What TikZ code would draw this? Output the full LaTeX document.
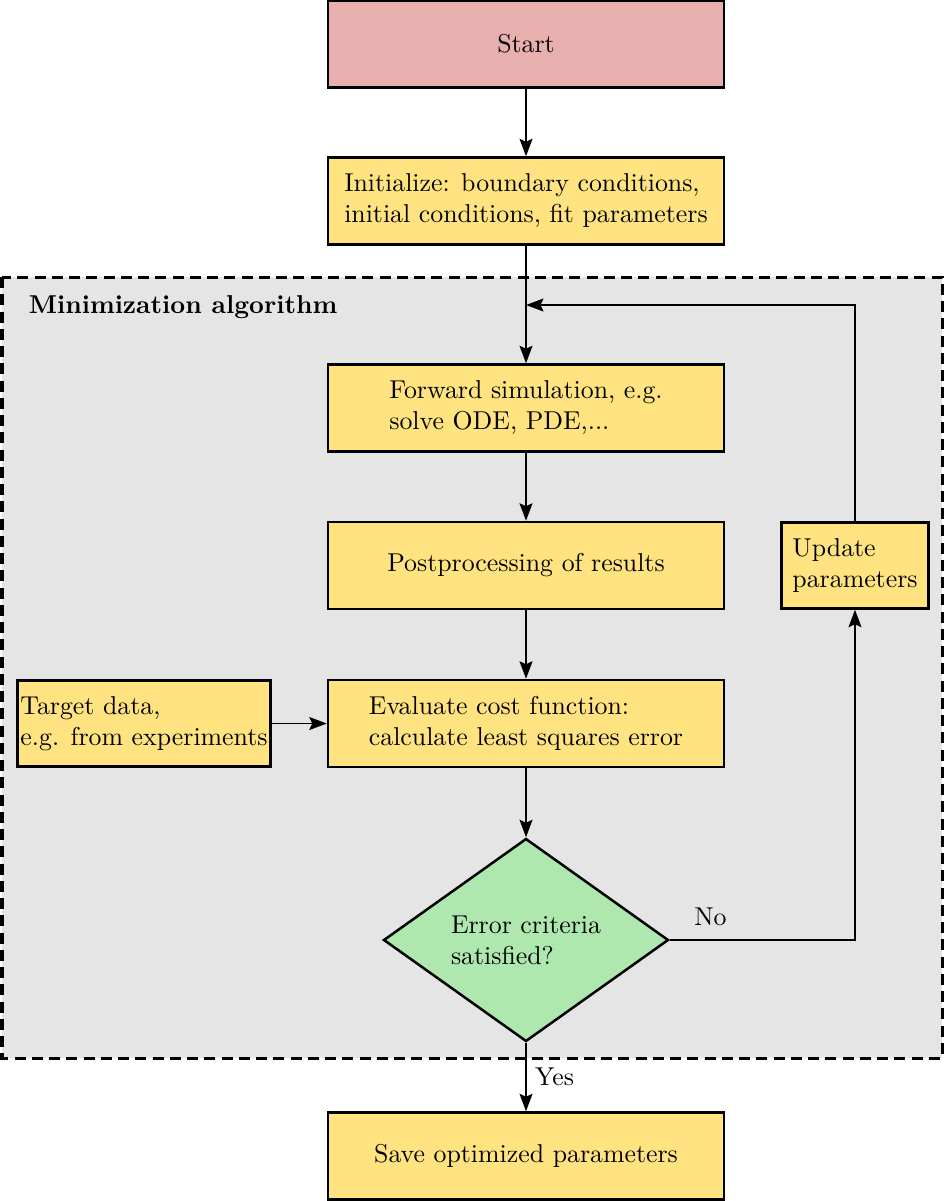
\documentclass[tikz,border=0pt]{standalone}
\usetikzlibrary{shapes.geometric,arrows.meta}

\definecolor{startred}{HTML}{E8AFAF}
\definecolor{boxyellow}{HTML}{FFE380}
\definecolor{critgreen}{HTML}{AFE8AF}
\definecolor{loopgray}{HTML}{E5E5E5}

\tikzset{
	every node/.style={font=\fontsize{10.33pt}{12.4pt}\selectfont},
	stepbox/.style={draw, line width=1pt, fill=boxyellow, align=left, minimum width=158.4pt, minimum height=34.8pt},
	sidebox/.style={draw, line width=1pt, fill=boxyellow, align=left, inner xsep=1pt, minimum height=34.4pt},
	critbox/.style={draw, line width=1pt, fill=critgreen, diamond, aspect=1.4, align=left, minimum width=114pt, minimum height=81.2pt},
	arrow/.style={semithick, -{Stealth[length=7pt,width=5.2pt,inset=1.2pt]}}
}

\begin{document}
\begin{tikzpicture}[x=0.4pt,y=-0.4pt]
		\useasboundingbox (0,0) rectangle (945,1201);
		% loop background
		\draw[line width=1.2pt, dash pattern=on 4.4pt off 2.5pt, fill=loopgray] (2,277) rectangle (942,1058);
		\node[font=\fontsize{10.33pt}{12.4pt}\selectfont\bfseries, anchor=base west] (looplabel) at (20,313) {Minimization algorithm};

		\node[stepbox, fill=startred] (start) at (526,44) {Start};
		\node[stepbox] (init) at (526,201) {Initialize: boundary conditions,\\initial conditions, fit parameters};
		\node[stepbox] (fwd) at (526,408) {Forward simulation, e.g.\\solve ODE, PDE,...};
		\node[stepbox] (post) at (526,565.5) {Postprocessing of results};
		\node[stepbox] (eval) at (526,723.5) {Evaluate cost function:\\calculate least squares error};
		\node[critbox] (crit) at (526,940) {Error criteria\\satisfied?};
		\node[stepbox] (save) at (526,1156) {Save optimized parameters};
		\node[sidebox, minimum width=58.8pt] (update) at (855,565.5) {Update\\parameters};
		\node[sidebox, minimum width=101.2pt] (target) at (144,723.5) {Target data,\\e.g. from experiments};
		\coordinate (merge) at (526,305);

		\draw[arrow] (start) -- (init);
		\draw[arrow] (init) -- (fwd);
		\draw[arrow] (fwd) -- (post);
		\draw[arrow] (post) -- (eval);
		\draw[arrow] (eval) -- (crit);
		\draw[arrow] (target) -- (eval);
		\draw[arrow] (crit) -- node[right] {Yes} (save);
		\draw[arrow] (crit.east) -| node[pos=0.11, above, yshift=2pt] {No} (update.south);
		\draw[arrow] (update.north) |- (merge);
	\end{tikzpicture}
\end{document}
